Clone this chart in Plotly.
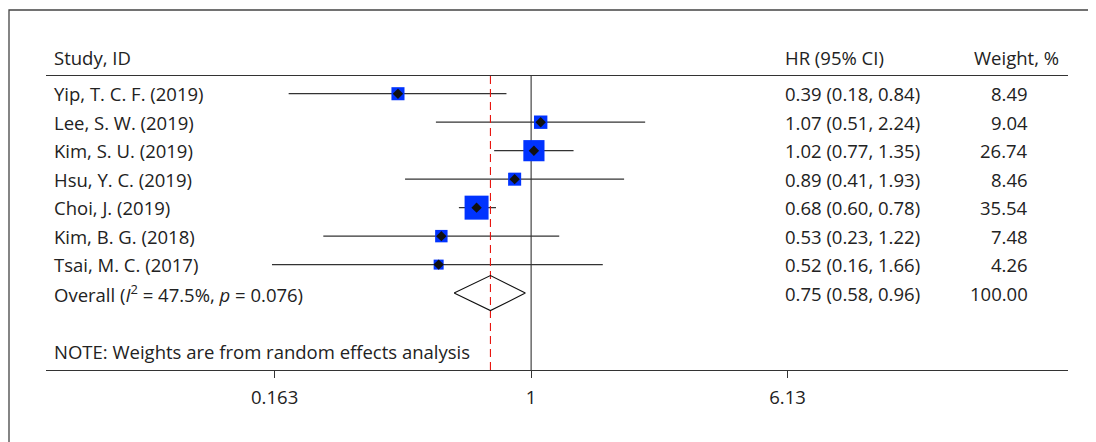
import math
import plotly.graph_objects as go

# ---------------- data ----------------
studies = ["Yip, T. C. F. (2019)", "Lee, S. W. (2019)", "Kim, S. U. (2019)",
           "Hsu, Y. C. (2019)", "Choi, J. (2019)", "Kim, B. G. (2018)",
           "Tsai, M. C. (2017)"]
hr = [0.39, 1.07, 1.02, 0.89, 0.68, 0.53, 0.52]
lo = [0.18, 0.51, 0.77, 0.41, 0.60, 0.23, 0.16]
hi = [0.84, 2.24, 1.35, 1.93, 0.78, 1.22, 1.66]
weights = [8.49, 9.04, 26.74, 8.46, 35.54, 7.48, 4.26]

overall_label = "Overall (<i>I</i><sup>2</sup> = 47.5%, <i>p</i> = 0.076)"
overall_hr, overall_lo, overall_hi = 0.75, 0.58, 0.96
overall_weight = "100.00"

tick_vals = [0.163, 1, 6.13]
tick_text = ["0.163", "1", "6.13"]

header_study = "Study, ID"
header_hr = "HR (95% CI)"
header_w = "Weight, %"
note = "NOTE: Weights are from random effects analysis"

# ---------------- layout constants (figure pixels; page has 8px body margin) ----------------
W, H = 1088, 434
L, R, T, B = 38, 1060, 68, 362          # plot area in pixels
X_RANGE = [-1.490, 1.649]               # log10 range of the x axis
Y_RANGE = [10.70, 0.378]                # rows (reversed)
FONT = "Open Sans"
FS = 18.5
TXT = "#222222"
BLUE = "#0033ff"

def px_to_paper_x(px):
    return (px - L) / (R - L)

def px_to_paper_y(py):
    return (B - py) / (B - T)

n = len(studies)
rows = list(range(1, n + 1))
overall_row = n + 1
note_row = 10.04

fig = go.Figure()

# CI lines
cx, cy = [], []
for r, a, b in zip(rows, lo, hi):
    cx += [a, b, None]
    cy += [r, r, None]
fig.add_trace(go.Scatter(x=cx, y=cy, mode="lines",
                         line=dict(color="#333333", width=1.3),
                         hoverinfo="skip"))

# null line at 1
fig.add_trace(go.Scatter(x=[1, 1], y=Y_RANGE, mode="lines",
                         line=dict(color="#333333", width=1.1),
                         hoverinfo="skip"))

# boxes
sizes = [3.59 * math.sqrt(w) + 2.6 for w in weights]
fig.add_trace(go.Scatter(x=hr, y=rows, mode="markers", opacity=1,
                         marker=dict(symbol="square", size=sizes, color=BLUE,
                                     opacity=1, line=dict(width=0)),
                         hoverinfo="skip"))

# overall dashed line
fig.add_trace(go.Scatter(x=[overall_hr, overall_hr], y=Y_RANGE, mode="lines",
                         line=dict(color="#e8150f", width=1.1, dash="8px,5px"),
                         hoverinfo="skip"))

# point estimates
fig.add_trace(go.Scatter(x=hr, y=rows, mode="markers",
                         marker=dict(symbol="diamond", size=8, color="#111111",
                                     opacity=1, line=dict(width=0)),
                         hoverinfo="skip"))

# overall diamond
hh = 0.615
fig.add_trace(go.Scatter(
    x=[overall_lo, overall_hr, overall_hi, overall_hr, overall_lo],
    y=[overall_row, overall_row - hh, overall_row, overall_row + hh, overall_row],
    mode="lines", line=dict(color="#111111", width=1.1), hoverinfo="skip"))

ann = []
def add_text(text, px, row, anchor="left", yref="y"):
    ann.append(dict(text=text, x=px_to_paper_x(px), xref="paper", y=row, yref=yref,
                    xanchor=anchor, yanchor="middle", showarrow=False,
                    font=dict(family=FONT, size=FS, color=TXT)))

hy = px_to_paper_y(57 - 8)
add_text(header_study, 44, hy, yref="paper")
add_text(header_hr, 775, hy, yref="paper")
add_text(header_w, 964, hy, yref="paper")
for r, s, v, a, b, w in zip(rows, studies, hr, lo, hi, weights):
    add_text(s, 44, r)
    add_text(f"{v:.2f} ({a:.2f}, {b:.2f})", 775, r)
    add_text(f"{w:.2f}", 1022, r, "right")
add_text(overall_label, 44, overall_row)
add_text(f"{overall_hr:.2f} ({overall_lo:.2f}, {overall_hi:.2f})", 775, overall_row)
add_text(overall_weight, 1022, overall_row, "right")
add_text(note, 44, note_row)

fig.update_layout(
    width=W, height=H,
    margin=dict(l=L, r=W - R, t=T, b=H - B, pad=0),
    paper_bgcolor="white", plot_bgcolor="white",
    showlegend=False,
    annotations=ann,
    shapes=[dict(type="rect", xref="paper", yref="paper",
                 x0=px_to_paper_x(1), x1=1.5, y0=-1.0, y1=px_to_paper_y(2),
                 line=dict(color="#444444", width=1.3), layer="below")],
    font=dict(family=FONT, size=FS, color=TXT),
)
fig.update_xaxes(type="log", range=X_RANGE, showline=True, mirror=True,
                 linecolor="#333333", linewidth=1.3, showgrid=False, zeroline=False,
                 ticks="outside", ticklen=7, tickwidth=1.3, tickcolor="#333333",
                 tickvals=tick_vals, ticktext=tick_text,
                 tickfont=dict(family=FONT, size=FS, color=TXT),
                 ticklabelstandoff=4)
fig.update_yaxes(range=Y_RANGE, visible=False, showgrid=False, zeroline=False)

fig.write_html("out.html")
